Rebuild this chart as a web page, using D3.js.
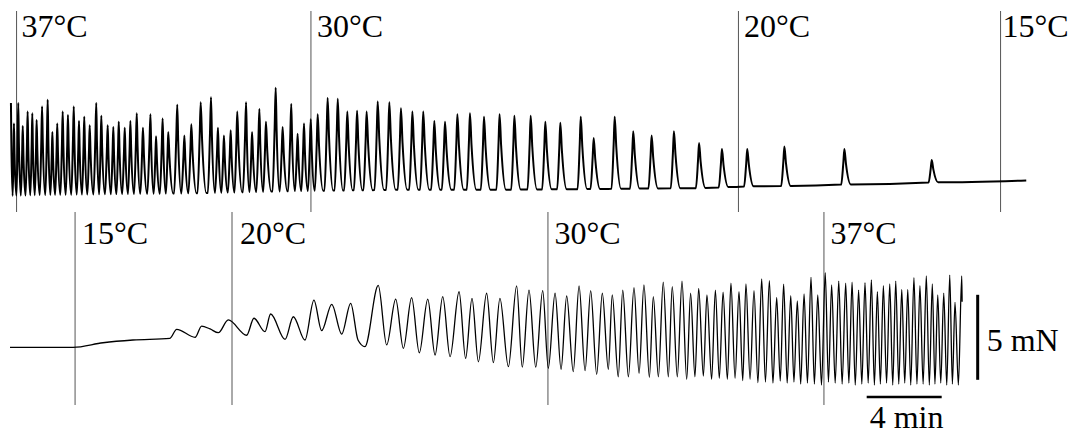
<!DOCTYPE html>
<html>
<head>
<meta charset="UTF-8">
<script src="https://d3js.org/d3.v7.min.js"></script>
<style>
  body { margin: 0; background: #fff; }
  svg { display: block; }
  .lbl { font-family: "Liberation Serif", "Times New Roman", serif; font-size: 32px; fill: #000; }
</style>
</head>
<body>
<svg id="chart" width="1069" height="434"></svg>
<script>
// time in minutes, force in mN
const topPeakT = [0.05,0.21,0.44,0.68,0.94,1.19,1.42,1.71,2.01,2.26,2.52,2.81,3.09,3.40,3.68,3.96,4.25,4.60,4.87,5.21,
  5.51,5.80,6.12,6.42,6.76,7.09,7.49,7.79,8.14,8.44,8.92,9.30,9.67,10.17,10.72,11.09,11.41,11.77,12.12,12.59,
  12.91,13.30,13.65,14.17,14.54,15.00,15.34,15.68,16.04,16.41,16.94,17.48,17.99,18.51,19.02,19.61,20.23,20.85,21.46,22.04,
  22.63,23.20,23.86,24.53,25.28,26.11,26.90,27.77,28.55,29.35,30.44,31.13,32.25,33.24,34.22,35.41,36.75,37.97,39.32,41.30,
  44.50,49.16];
const topPeakF = [5.7,4.5,5.7,4.35,5.2,5.1,4.7,5.5,5.9,4.0,4.5,5.2,5.0,5.5,4.65,4.9,4.4,5.7,4.95,4.4,
  4.3,4.6,4.25,4.65,5.1,4.25,5.05,3.75,4.8,4.0,5.6,3.8,4.45,5.75,6.05,4.25,3.8,4.1,5.2,5.75,
  4.0,5.35,4.6,6.6,4.3,5.65,3.9,4.5,4.75,5.05,6.0,5.95,5.2,5.25,5.2,5.8,5.75,5.4,5.2,5.2,
  4.65,4.6,5.05,5.1,4.9,5.05,4.95,4.95,4.6,4.55,4.9,3.65,4.9,4.05,3.8,4.05,3.35,3.0,3.0,3.15,
  3.0,2.35];
// resting tension of the top trace
const topBaseT = [0, 2, 10, 15.5, 20.8, 26.1, 31.5, 36.8, 39.3, 41.3, 44.5, 49.1, 52.8, 54.2];
const topBaseF = [0.25, 0.3, 0.4, 0.53, 0.6, 0.6, 0.65, 0.7, 0.8, 0.82, 0.91, 1.03, 1.12, 1.15];

// bottom trace, successive extrema
const botT = [0,3.36,4.96,6.56,8.53,8.89,9.87,10.22,10.67,11.11,11.64,12.62,13.01,13.60,13.90,14.67,15.11,15.73,16.21,16.62,
  17.16,17.69,18.17,18.56,18.93,19.64,20.09,20.57,20.98,21.42,21.83,22.28,22.67,23.08,23.47,23.95,24.30,24.64,24.98,25.42,
  25.78,26.13,26.58,27.02,27.32,27.68,28.04,28.41,28.71,29.07,29.39,29.69,30.04,30.35,30.67,30.97,31.29,31.59,31.91,32.12,
  32.44,32.68,32.98,33.28,33.55,33.81,34.10,34.31,34.58,34.84,35.11,35.32,35.59,35.84,36.09,36.30,36.53,36.73,36.98,37.17,
  37.42,37.62,37.83,38.03,38.26,38.45,38.67,38.88,39.08,39.25,39.47,39.68,39.89,40.09,40.29,40.50,40.69,40.89,41.08,41.26,
  41.45,41.64,41.81,41.99,42.17,42.35,42.53,42.72,42.90,43.08,43.28,43.48,43.65,43.82,44.01,44.20,44.38,44.57,44.74,44.91,
  45.08,45.26,45.43,45.60,45.77,45.94,46.10,46.26,46.42,46.58,46.75,46.92,47.08,47.24,47.40,47.56,47.72,47.88,48.04,48.21,
  48.37,48.53,48.70,48.87,49.03,49.19,49.33,49.48,49.64,49.80,49.96,50.12,50.26,50.40,50.58,50.76,50.78];
const botF = [2.51,2.51,2.78,2.94,3.04,3.57,3.10,3.76,3.59,3.37,4.12,3.22,4.22,3.43,4.47,2.98,4.31,2.94,5.29,3.49,
  5.04,3.29,5.10,2.94,2.55,6.15,2.65,5.35,2.45,5.43,2.19,5.34,2.06,5.49,1.96,5.78,1.86,5.39,1.66,5.69,
  1.61,5.39,1.37,6.12,1.34,5.88,1.34,5.84,1.28,5.69,1.22,5.53,1.08,6.12,1.14,5.84,0.92,5.69,1.22,5.59,
  0.78,5.88,0.78,6.02,0.98,6.18,0.75,5.49,0.78,6.34,0.78,6.08,0.78,6.41,0.63,5.69,0.78,5.98,0.82,5.59,
  0.63,5.88,0.69,5.75,0.63,6.28,0.69,5.78,0.55,6.24,0.63,5.84,0.43,6.53,0.47,6.43,0.41,5.45,0.53,6.22,
  0.41,5.55,0.47,5.24,0.35,5.65,0.41,6.63,0.35,5.59,0.29,6.90,0.47,6.18,0.41,6.41,0.35,6.28,0.41,6.34,
  0.29,5.88,0.35,6.31,0.41,6.47,0.29,5.78,0.35,6.14,0.41,6.24,0.29,6.41,0.35,5.92,0.41,5.92,0.29,6.61,
  0.35,6.14,0.35,6.71,0.29,6.24,0.35,5.59,0.41,5.69,0.29,6.76,0.35,5.16,0.29,6.71,5.19];

const topLabels = ["37°C", "30°C", "20°C", "15°C"];
const topMarkT = [0.35, 16.05, 38.85, 52.83];
const botLabels = ["15°C", "20°C", "30°C", "37°C"];
const botMarkT = [3.47, 11.84, 28.69, 43.41];

const svg = d3.select("#chart");
const x = d3.scaleLinear().domain([0, 54]).range([10, 1022.5]);
const yTop = d3.scaleLinear().domain([0, 7]).range([200, 81]);
const yBot = d3.scaleLinear().domain([0, 7]).range([390, 271]);
const baseTop = d3.scaleLinear().domain(topBaseT).range(topBaseF);

// temperature markers
svg.selectAll(".mt").data(topMarkT).enter().append("line")
  .attr("x1", d => x(d)).attr("x2", d => x(d))
  .attr("y1", 11).attr("y2", 212)
  .attr("stroke", "#555").attr("stroke-width", 1);
svg.selectAll(".mb").data(botMarkT).enter().append("line")
  .attr("x1", d => x(d)).attr("x2", d => x(d))
  .attr("y1", 212).attr("y2", 405)
  .attr("stroke", "#555").attr("stroke-width", 1);

const topOff = [5, 6, 5.5, 2];
svg.selectAll(".lt").data(topLabels).enter().append("text")
  .attr("class", "lbl")
  .attr("x", (d, i) => x(topMarkT[i]) + topOff[i]).attr("y", 37)
  .text(d => d);
const botOff = [7, 8, 6.5, 6.5];
svg.selectAll(".lb").data(botLabels).enter().append("text")
  .attr("class", "lbl")
  .attr("x", (d, i) => x(botMarkT[i]) + botOff[i]).attr("y", 244)
  .text(d => d);

// top trace: each twitch rises quickly from rest, peaks, relaxes back
const topPts = [];
const n = topPeakT.length;
topPeakT.forEach((t, i) => {
  const prev = i ? t - topPeakT[i - 1] : 0;
  const next = i < n - 1 ? topPeakT[i + 1] - t : 1;
  const rise = Math.min(prev * 0.42, 0.17);
  const fall = Math.min(next * 0.55, 0.34);
  const p = topPeakF[i];
  if (i) {
    const b0 = baseTop(t - rise);
    topPts.push([t - rise, b0]);
    topPts.push([t - rise * 0.32, b0 + 0.62 * (p - b0)]);
  }
  topPts.push([t, p]);
  const b1 = baseTop(t + fall);
  topPts.push([t + fall * 0.25, b1 + 0.58 * (p - b1)]);
  topPts.push([t + fall, b1]);
});
topPts.push([54.2, baseTop(54.2)]);

const lineTop = d3.line().x(d => x(d[0])).y(d => yTop(d[1])).curve(d3.curveMonotoneX);
svg.append("path").datum(topPts)
  .attr("d", lineTop)
  .attr("fill", "none").attr("stroke", "#000").attr("stroke-width", 2)
  .attr("stroke-linejoin", "round");

const lineBot = d3.line().x((d, i) => x(botT[i])).y(d => yBot(d)).curve(d3.curveMonotoneX);
svg.append("path").datum(botF)
  .attr("d", lineBot)
  .attr("fill", "none").attr("stroke", "#000").attr("stroke-width", 1.3);

// scale bars
const barT = 45.69, barF = 0.6, barX = 51.61;
svg.append("line")
  .attr("x1", x(barT)).attr("x2", x(barT + 4))
  .attr("y1", 397).attr("y2", 397)
  .attr("stroke", "#000").attr("stroke-width", 2.5);
svg.append("text").attr("class", "lbl")
  .attr("x", x(barT) + 3).attr("y", 428).text("4 min");
svg.append("line")
  .attr("x1", x(barX)).attr("x2", x(barX))
  .attr("y1", yBot(barF)).attr("y2", yBot(barF + 5))
  .attr("stroke", "#000").attr("stroke-width", 3);
svg.append("text").attr("class", "lbl")
  .attr("x", x(barX) + 9).attr("y", 351).text("5 mN");
</script>
</body>
</html>
